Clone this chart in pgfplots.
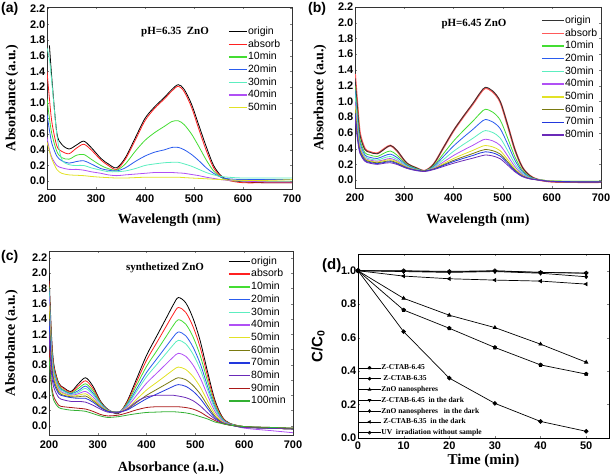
\documentclass[border=0pt]{standalone}
\usepackage{pgfplots}
\usepackage{pgfplotstable}
\pgfplotsset{compat=1.18}
\usepackage{fontspec}
\setmainfont{Liberation Serif}
\setsansfont{Liberation Sans}

\definecolor{cA}{HTML}{FF2020}
\definecolor{cAb}{HTML}{FF5A5A}
\definecolor{cG}{HTML}{44DD33}
\definecolor{cB}{HTML}{2A5CEE}
\definecolor{cQ}{HTML}{5CEEC0}
\definecolor{cV}{HTML}{B050F5}
\definecolor{cY}{HTML}{E2E226}
\definecolor{cO}{HTML}{7A7A10}
\definecolor{cB2}{HTML}{2238DD}
\definecolor{cP}{HTML}{6A2AB8}
\definecolor{cR}{HTML}{AA1818}
\definecolor{cG2}{HTML}{33B033}

\pgfplotstableread{
x o ab m10 m20 m30 m40 m50
200 nan 1.40 1.05 0.85 1.70 0.56 0.50
205 1.73 1.05 0.80 0.65 1.55 0.40 0.38
210 1.30 0.75 0.60 0.48 1.25 0.30 0.28
220 0.62 0.45 0.38 0.32 0.60 0.20 0.15
230 0.47 0.38 0.30 0.26 0.28 0.17 0.10
245 0.41 0.35 0.28 0.23 0.21 0.15 0.08
260 0.46 0.42 0.33 0.25 0.20 0.15 0.075
275 0.51 0.47 0.34 0.26 0.20 0.14 0.07
290 0.43 0.40 0.28 0.22 0.17 0.12 0.06
310 0.29 0.27 0.20 0.16 0.14 0.10 0.05
325 0.22 0.20 0.16 0.14 0.12 0.08 0.045
342 0.17 0.15 0.14 0.13 0.12 0.07 0.04
360 0.30 0.28 0.22 0.17 0.13 0.08 0.04
380 0.55 0.52 0.38 0.25 0.16 0.09 0.045
400 0.80 0.77 0.52 0.32 0.20 0.10 0.05
420 0.95 0.93 0.62 0.37 0.22 0.11 0.05
440 1.07 1.05 0.70 0.40 0.235 0.11 0.05
455 1.17 1.15 0.76 0.43 0.24 0.11 0.05
468 1.23 1.21 0.77 0.43 0.24 0.105 0.05
480 1.17 1.14 0.72 0.40 0.22 0.10 0.045
495 0.98 0.94 0.60 0.34 0.19 0.085 0.04
510 0.71 0.66 0.44 0.26 0.15 0.07 0.035
525 0.44 0.39 0.27 0.17 0.11 0.05 0.03
540 0.20 0.17 0.13 0.10 0.08 0.035 0.025
555 0.07 0.06 0.05 0.05 0.06 0.02 0.02
570 0.02 0.01 0.01 0.03 0.05 0.01 0.015
600 -0.01 -0.02 0.0 0.02 0.04 0.0 0.01
650 -0.02 -0.02 0.0 0.02 0.04 -0.01 0.01
700 -0.02 -0.02 0.0 0.02 0.04 -0.01 0.02
}\tabA

\pgfplotstableread{
x o ab m10 m20 m30 m40 m50 m60 m70 m80
200 1.30 1.35 1.20 1.15 1.10 1.00 0.95 0.90 0.85 0.80
205 0.93 0.95 0.82 0.76 0.72 0.66 0.62 0.58 0.55 0.52
210 0.58 0.60 0.52 0.48 0.45 0.42 0.40 0.38 0.36 0.34
220 0.39 0.40 0.35 0.32 0.30 0.28 0.27 0.26 0.25 0.24
230 0.355 0.36 0.32 0.29 0.27 0.255 0.245 0.235 0.225 0.215
245 0.335 0.34 0.30 0.275 0.255 0.24 0.23 0.22 0.21 0.20
260 0.395 0.40 0.345 0.31 0.285 0.26 0.25 0.235 0.225 0.215
272 0.44 0.44 0.37 0.33 0.30 0.275 0.26 0.245 0.235 0.22
285 0.38 0.375 0.32 0.29 0.265 0.245 0.235 0.22 0.21 0.20
305 0.22 0.215 0.20 0.19 0.18 0.17 0.165 0.16 0.155 0.15
325 0.155 0.153 0.145 0.14 0.135 0.13 0.128 0.126 0.124 0.12
342 0.12 0.12 0.12 0.12 0.12 0.12 0.12 0.12 0.115 0.11
360 0.205 0.204 0.182 0.172 0.161 0.152 0.146 0.142 0.139 0.134
380 0.417 0.414 0.338 0.302 0.263 0.232 0.210 0.196 0.187 0.174
400 0.629 0.624 0.494 0.432 0.365 0.312 0.274 0.250 0.235 0.214
420 0.809 0.803 0.627 0.543 0.452 0.380 0.328 0.296 0.276 0.248
440 0.979 0.971 0.752 0.647 0.533 0.444 0.379 0.339 0.314 0.280
455 1.116 1.107 0.853 0.731 0.599 0.496 0.421 0.374 0.346 0.306
465 1.18 1.17 0.90 0.77 0.63 0.52 0.44 0.39 0.36 0.32
480 1.133 1.123 0.864 0.739 0.605 0.499 0.422 0.374 0.346 0.307
495 1.003 0.995 0.765 0.655 0.536 0.442 0.374 0.332 0.306 0.272
510 0.708 0.702 0.540 0.462 0.378 0.312 0.264 0.234 0.216 0.192
525 0.389 0.386 0.297 0.254 0.208 0.172 0.145 0.129 0.119 0.106
540 0.165 0.164 0.126 0.108 0.088 0.073 0.062 0.055 0.050 0.045
555 0.059 0.059 0.045 0.039 0.032 0.026 0.022 0.020 0.018 0.016
570 0.012 0.010 0.010 0.008 0.008 0.006 0.005 0.004 0.004 0.003
600 -0.015 -0.02 -0.01 -0.015 -0.01 -0.015 -0.01 -0.02 -0.015 -0.02
650 -0.02 -0.025 -0.015 -0.02 -0.015 -0.02 -0.015 -0.025 -0.02 -0.025
700 -0.02 -0.025 -0.015 -0.02 -0.015 -0.02 -0.015 -0.025 -0.02 -0.025
}\tabB

\pgfplotstableread{
x o ab m10 m20 m30 m40 m50 m60 m70 m80 m90 m100
200 2.00 1.90 1.85 1.80 1.75 1.70 1.60 1.50 1.40 1.20 1.00 0.90
205 1.20 1.15 1.10 1.05 1.00 0.95 0.90 0.85 0.80 0.70 0.55 0.50
210 0.80 0.78 0.75 0.72 0.70 0.67 0.64 0.60 0.56 0.50 0.38 0.33
220 0.56 0.55 0.53 0.51 0.50 0.48 0.46 0.44 0.42 0.37 0.27 0.24
230 0.50 0.49 0.47 0.46 0.45 0.43 0.42 0.40 0.39 0.34 0.25 0.22
245 0.45 0.44 0.43 0.42 0.41 0.40 0.39 0.38 0.37 0.32 0.24 0.205
260 0.55 0.52 0.49 0.46 0.44 0.42 0.40 0.38 0.36 0.32 0.23 0.20
275 0.63 0.59 0.55 0.52 0.49 0.45 0.42 0.39 0.36 0.31 0.22 0.19
290 0.52 0.49 0.46 0.43 0.41 0.38 0.35 0.33 0.31 0.27 0.19 0.16
305 0.33 0.32 0.31 0.30 0.29 0.27 0.26 0.25 0.24 0.22 0.15 0.13
320 0.22 0.215 0.21 0.21 0.205 0.20 0.20 0.195 0.19 0.18 0.13 0.11
342 0.16 0.17 0.17 0.175 0.18 0.18 0.18 0.18 0.18 0.17 0.14 0.12
360 0.321 0.308 0.292 0.276 0.265 0.248 0.23 0.216 0.207 0.22 0.17 0.14
380 0.623 0.584 0.536 0.488 0.455 0.404 0.35 0.308 0.281 0.32 0.21 0.16
400 0.925 0.86 0.78 0.70 0.645 0.56 0.47 0.40 0.355 0.38 0.24 0.175
420 1.167 1.081 0.975 0.87 0.797 0.685 0.566 0.474 0.414 0.40 0.25 0.18
440 1.408 1.302 1.17 1.039 0.949 0.81 0.662 0.547 0.473 0.40 0.25 0.185
455 1.589 1.467 1.317 1.166 1.063 0.903 0.734 0.602 0.518 0.40 0.25 0.185
465 1.68 1.55 1.39 1.23 1.12 0.95 0.77 0.63 0.54 0.39 0.25 0.18
480 1.613 1.488 1.334 1.181 1.075 0.912 0.739 0.605 0.518 0.37 0.24 0.17
495 1.411 1.302 1.168 1.033 0.941 0.798 0.647 0.529 0.454 0.33 0.22 0.15
510 1.109 1.023 0.917 0.812 0.739 0.627 0.508 0.416 0.356 0.26 0.18 0.12
525 0.706 0.651 0.584 0.517 0.47 0.399 0.323 0.265 0.227 0.17 0.12 0.09
540 0.336 0.31 0.278 0.246 0.224 0.19 0.154 0.126 0.108 0.09 0.07 0.05
555 0.118 0.109 0.097 0.086 0.078 0.067 0.054 0.044 0.038 0.04 0.03 0.03
570 0.034 0.031 0.028 0.025 0.022 0.019 0.015 0.013 0.011 0.015 0.01 0.01
600 -0.01 -0.01 -0.01 -0.015 -0.01 -0.03 -0.015 -0.02 -0.02 -0.02 -0.01 -0.01
650 -0.03 -0.03 -0.025 -0.03 -0.025 -0.06 -0.03 -0.03 -0.03 -0.03 -0.02 -0.02
700 -0.04 -0.04 -0.035 -0.04 -0.035 -0.09 -0.04 -0.04 -0.04 -0.04 -0.03 -0.03
}\tabC

\pgfplotsset{
  spec/.style={
    scale only axis, anchor=south west,
    xmin=200, xmax=700, xtick={200,300,400,500,600,700},
    ytick={0,0.2,0.4,0.6,0.8,1.0,1.2,1.4,1.6,1.8,2.0,2.2},
    tick align=inside, major tick length=2pt,
    /pgf/number format/assume math mode=true,
    tick label style={font=\sffamily\bfseries\fontsize{11}{12}\selectfont},
    yticklabel style={inner sep=1.5pt, /pgf/number format/.cd, fixed, fixed zerofill, precision=1},
    xticklabel style={yshift=-2.5pt},
    label style={font=\rmfamily\bfseries\fontsize{14}{16}\selectfont},
    ylabel={Absorbance (a.u.)},
    axis line style={line width=0.6pt, black!80},
    every axis plot/.append style={line width=0.8pt, smooth, tension=0.5},
    legend cell align=left,
    legend style={draw=none, fill=none, inner sep=0pt, anchor=north west,
      font=\sffamily\fontsize{10.5}{12}\selectfont,
      nodes={inner sep=0.5pt, text height=7pt, text depth=1.5pt},
      row sep=3.2pt},
  },
}

\begin{document}
\begin{tikzpicture}
\useasboundingbox (0,0) rectangle (610pt,476pt);

% ---------- (a)
\begin{axis}[spec, at={(47pt,287pt)}, width=245pt, height=182pt,
  ymin=-0.1, ymax=2.22, xlabel={Wavelength (nm)},
  xlabel style={at={(axis description cs:0.5,-0.17)}, anchor=center},
  ylabel style={at={(axis description cs:-0.143,0.5)}, anchor=center},
  legend style={at={(0.739,0.892)}},
  legend image code/.code={\draw[#1, line width=1.4pt] (0pt,0pt) -- (18pt,0pt);}]
\addplot[black] table[x=x,y=o]{\tabA}; \addlegendentry{origin}
\addplot[cA] table[x=x,y=ab]{\tabA}; \addlegendentry{absorb}
\addplot[cG] table[x=x,y=m10]{\tabA}; \addlegendentry{10min}
\addplot[cB] table[x=x,y=m20]{\tabA}; \addlegendentry{20min}
\addplot[cQ] table[x=x,y=m30]{\tabA}; \addlegendentry{30min}
\addplot[cV] table[x=x,y=m40]{\tabA}; \addlegendentry{40min}
\addplot[cY] table[x=x,y=m50]{\tabA}; \addlegendentry{50min}
\end{axis}
\node[font=\rmfamily\bfseries\fontsize{11}{12}\selectfont] at (175pt,444pt) {pH=6.35~~ZnO};
\node[font=\sffamily\bfseries\fontsize{14}{16}\selectfont, anchor=north west, inner sep=0pt] at (1pt,474pt) {(a)};

% ---------- (b)
\begin{axis}[spec, at={(355pt,288pt)}, width=246pt, height=181pt,
  ymin=-0.1, ymax=2.2, xlabel={Wavelength (nm)},
  xlabel style={at={(axis description cs:0.5,-0.177)}, anchor=center},
  ylabel style={at={(axis description cs:-0.142,0.5)}, anchor=center},
  legend style={at={(0.756,0.952)}},
  legend image code/.code={\draw[#1, line width=1.4pt] (0pt,0pt) -- (22pt,0pt);}]
\addlegendimage{black!80}\addlegendentry{origin}
\addplot[cAb, line width=1.8pt] table[x=x,y=ab]{\tabB}; \addlegendentry{absorb}
\addplot[black!80, forget plot] table[x=x,y=o]{\tabB};
\addplot[cG] table[x=x,y=m10]{\tabB}; \addlegendentry{10min}
\addplot[cB] table[x=x,y=m20]{\tabB}; \addlegendentry{20min}
\addplot[cQ] table[x=x,y=m30]{\tabB}; \addlegendentry{30min}
\addplot[cV] table[x=x,y=m40]{\tabB}; \addlegendentry{40min}
\addplot[cY] table[x=x,y=m50]{\tabB}; \addlegendentry{50min}
\addplot[cO] table[x=x,y=m60]{\tabB}; \addlegendentry{60min}
\addplot[cB2] table[x=x,y=m70]{\tabB}; \addlegendentry{70min}
\addplot[cP] table[x=x,y=m80]{\tabB}; \addlegendentry{80min}
\end{axis}
\node[font=\rmfamily\bfseries\fontsize{11}{12}\selectfont] at (474pt,452pt) {pH=6.45 ZnO};
\node[font=\sffamily\bfseries\fontsize{14}{16}\selectfont, anchor=north west, inner sep=0pt] at (308pt,474pt) {(b)};

% ---------- (c)
\begin{axis}[spec, at={(49pt,41pt)}, width=244pt, height=184pt,
  ymin=-0.12, ymax=2.29, xlabel={Absorbance (a.u.)},
  xlabel style={at={(axis description cs:0.5,-0.179)}, anchor=center},
  ylabel style={at={(axis description cs:-0.154,0.5)}, anchor=center},
  legend style={at={(0.734,0.970)}},
  legend image code/.code={\draw[#1, line width=1.4pt] (0pt,0pt) -- (21pt,0pt);}]
\addplot[black] table[x=x,y=o]{\tabC}; \addlegendentry{origin}
\addplot[cA] table[x=x,y=ab]{\tabC}; \addlegendentry{absorb}
\addplot[cG] table[x=x,y=m10]{\tabC}; \addlegendentry{10min}
\addplot[cB] table[x=x,y=m20]{\tabC}; \addlegendentry{20min}
\addplot[cQ] table[x=x,y=m30]{\tabC}; \addlegendentry{30min}
\addplot[cV] table[x=x,y=m40]{\tabC}; \addlegendentry{40min}
\addplot[cY] table[x=x,y=m50]{\tabC}; \addlegendentry{50min}
\addplot[cO] table[x=x,y=m60]{\tabC}; \addlegendentry{60min}
\addplot[cB2] table[x=x,y=m70]{\tabC}; \addlegendentry{70min}
\addplot[cP] table[x=x,y=m80]{\tabC}; \addlegendentry{80min}
\addplot[cR] table[x=x,y=m90]{\tabC}; \addlegendentry{90min}
\addplot[cG2] table[x=x,y=m100]{\tabC}; \addlegendentry{100min}
\end{axis}
\node[font=\rmfamily\bfseries\fontsize{11}{12}\selectfont] at (165pt,208pt) {synthetized ZnO};
\node[font=\sffamily\bfseries\fontsize{14}{16}\selectfont, anchor=north west, inner sep=0pt] at (1pt,226pt) {(c)};

% ---------- (d)
\begin{axis}[scale only axis, anchor=south west, at={(358pt,38pt)},
  width=251pt, height=184pt,
  xmin=0, xmax=55, ymin=0, ymax=1.1,
  xtick={0,10,20,30,40,50}, ytick={0,0.2,0.4,0.6,0.8,1.0},
  tick align=inside, major tick length=2pt,
  /pgf/number format/assume math mode=true,
  tick label style={font=\sffamily\bfseries\fontsize{11}{12}\selectfont},
  yticklabel style={inner sep=1.5pt, /pgf/number format/.cd, fixed, fixed zerofill, precision=1},
  xlabel={Time (min)}, ylabel={C/C\textsubscript{0}},
  xlabel style={font=\rmfamily\bfseries\fontsize{15}{17}\selectfont, at={(axis description cs:0.5,-0.125)}, anchor=center},
  ylabel style={font=\sffamily\bfseries\fontsize{15}{17}\selectfont, at={(axis description cs:-0.159,0.5)}, anchor=center},
  axis line style={line width=0.7pt, black},
  every axis plot/.append style={black, line width=0.7pt, mark size=1.9pt},
  legend cell align=left,
  legend style={draw=none, fill=none, inner sep=0pt, anchor=north west, at={(0,0.404)},
    font=\rmfamily\bfseries\fontsize{7.5}{8}\selectfont,
    nodes={inner sep=0.5pt, text height=5.5pt, text depth=1.5pt}, row sep=2.8pt},
  legend image code/.code={\draw[mark repeat=2,mark phase=2,#1, mark size=1.4pt] plot coordinates {(0pt,0pt) (11pt,0pt) (22pt,0pt)};}]
\addplot[mark=pentagon*] coordinates {(0,1) (10,0.765) (20,0.656) (30,0.541) (40,0.437) (50,0.382)};
\addlegendentry{Z-CTAB-6.45}
\addplot[mark=*] coordinates {(0,1) (10,0.636) (20,0.358) (30,0.207) (40,0.099) (50,0.04)};
\addlegendentry{~Z-CTAB-6.35}
\addplot[mark=triangle*] coordinates {(0,1) (10,0.835) (20,0.734) (30,0.66) (40,0.561) (50,0.453)};
\addlegendentry{ZnO nanospheres}
\addplot[mark=triangle*, mark options={rotate=180}] coordinates {(0,1) (10,0.998) (20,0.993) (30,0.998) (40,0.99) (50,0.985)};
\addlegendentry{Z-CTAB-6.45~ in the dark}
\addplot[mark=diamond*] coordinates {(0,1) (10,0.995) (20,0.99) (30,0.995) (40,0.985) (50,0.964)};
\addlegendentry{ZnO nanospheres~~ in the dark}
\addplot[mark=triangle*, mark options={rotate=90}] coordinates {(0,1) (10,0.968) (20,0.952) (30,0.944) (40,0.938) (50,0.92)};
\addlegendentry{~Z-CTAB-6.35~ in the dark}
\addplot[mark=o, mark options={fill=white}] coordinates {(0,1) (10,1.0) (20,0.996) (30,1.0) (40,0.99) (50,0.986)};
\addlegendentry{UV~ irradiation without sample}
\end{axis}
\node[font=\sffamily\bfseries\fontsize{15}{17}\selectfont, anchor=north west, inner sep=0pt] at (322pt,218pt) {(d)};
\end{tikzpicture}
\end{document}
